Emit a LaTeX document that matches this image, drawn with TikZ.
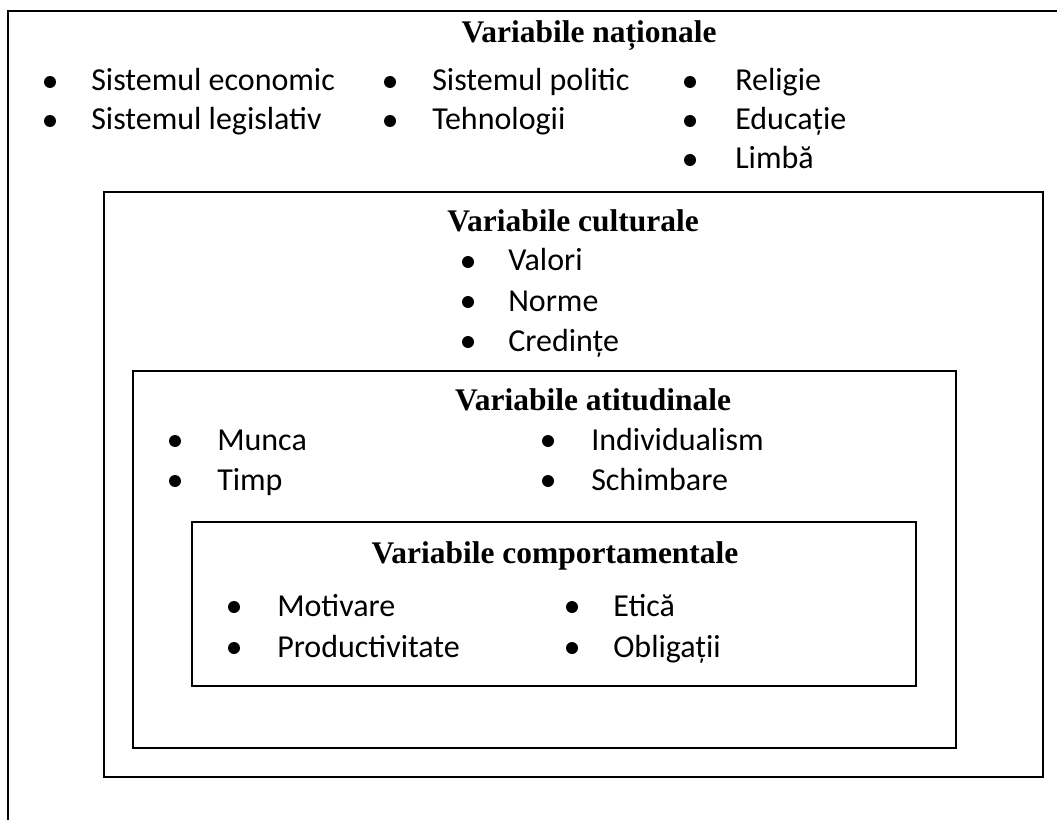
\documentclass[tikz,border=0pt]{standalone}
\usepackage{fontspec}
\newfontfamily\bodyfont{Carlito}
\newfontfamily\headfont{Liberation Serif}

\tikzset{
	frame/.style={draw, line width=1.3pt},
	heading/.style={font=\headfont\bfseries\fontsize{23.6}{28}\selectfont, anchor=base, inner sep=0pt},
	entry/.style={font=\bodyfont\fontsize{24}{29}\selectfont, anchor=base west, inner sep=0pt},
	dot/.style={circle, fill, inner sep=0pt, minimum size=9pt}
}

\begin{document}
\begin{tikzpicture}[x=0.75pt, y=-0.75pt]
	\useasboundingbox (0, 0) rectangle (1057, 820);
	\clip (0, 0) rectangle (1057, 820);
	% Frames:
	\draw[frame] (8, 11) rectangle (1075, 840);
	\draw[frame] (104, 192) rectangle (1043, 777);
	\draw[frame] (133, 371) rectangle (956, 748);
	\draw[frame] (192, 522) rectangle (916, 686);
	% Variabile nationale:
	\node[heading] (nat) at (589, 43) {Variabile naționale};
	\node[dot] (nat1d) at (50, 82) {};
	\node[entry] (nat1) at (91, 91) {Sistemul economic};
	\node[dot] (nat2d) at (50, 121) {};
	\node[entry] (nat2) at (91, 130) {Sistemul legislativ};
	\node[dot] (nat3d) at (390, 82) {};
	\node[entry] (nat3) at (432, 91) {Sistemul politic};
	\node[dot] (nat4d) at (390, 121) {};
	\node[entry] (nat4) at (432, 130) {Tehnologii};
	\node[dot] (nat5d) at (690, 82) {};
	\node[entry] (nat5) at (735, 91) {Religie};
	\node[dot] (nat6d) at (690, 121) {};
	\node[entry] (nat6) at (735, 130) {Educație};
	\node[dot] (nat7d) at (690, 160) {};
	\node[entry] (nat7) at (735, 169) {Limbă};
	% Variabile culturale:
	\node[heading] (cul) at (573, 232) {Variabile culturale};
	\node[dot] (cul1d) at (468, 262) {};
	\node[entry] (cul1) at (508, 271) {Valori};
	\node[dot] (cul2d) at (468, 302) {};
	\node[entry] (cul2) at (508, 311) {Norme};
	\node[dot] (cul3d) at (468, 342) {};
	\node[entry] (cul3) at (508, 351) {Credințe};
	% Variabile atitudinale:
	\node[heading] (ati) at (593, 410) {Variabile atitudinale};
	\node[dot] (ati1d) at (175, 441) {};
	\node[entry] (ati1) at (217, 450) {Munca};
	\node[dot] (ati2d) at (175, 481) {};
	\node[entry] (ati2) at (217, 490) {Timp};
	\node[dot] (ati3d) at (548, 441) {};
	\node[entry] (ati3) at (591, 450) {Individualism};
	\node[dot] (ati4d) at (548, 481) {};
	\node[entry] (ati4) at (591, 490) {Schimbare};
	% Variabile comportamentale:
	\node[heading] (com) at (555, 563) {Variabile comportamentale};
	\node[dot] (com1d) at (234, 607) {};
	\node[entry] (com1) at (277, 616) {Motivare};
	\node[dot] (com2d) at (234, 648) {};
	\node[entry] (com2) at (277, 657) {Productivitate};
	\node[dot] (com3d) at (572, 607) {};
	\node[entry] (com3) at (613, 616) {Etică};
	\node[dot] (com4d) at (572, 648) {};
	\node[entry] (com4) at (613, 657) {Obligații};
\end{tikzpicture}
\end{document}
